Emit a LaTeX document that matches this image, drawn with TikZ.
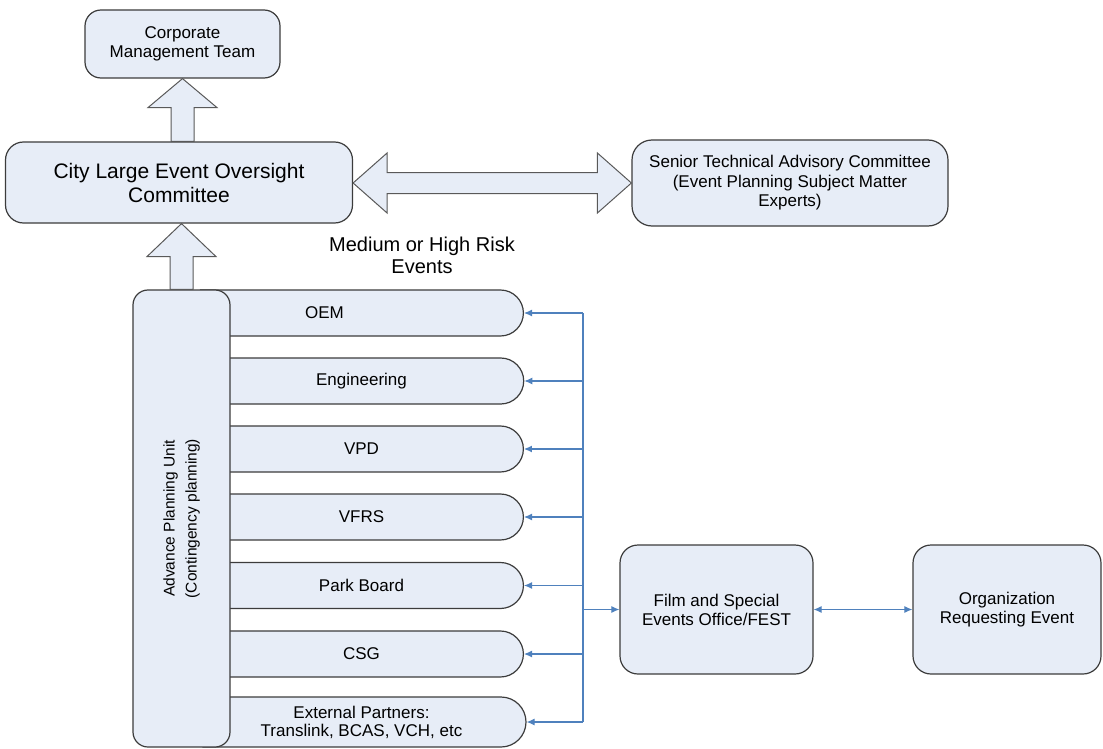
\documentclass[tikz,border=0pt]{standalone}
\usepackage{fontspec}
\setmainfont{Liberation Sans}
\usetikzlibrary{arrows.meta,calc,shapes.misc}
\definecolor{boxfill}{RGB}{231,237,247}
\definecolor{boxline}{RGB}{60,60,60}
\definecolor{connblue}{RGB}{79,129,189}
\tikzset{
  box/.style={draw=boxline, fill=boxfill, line width=1.2pt, rounded corners=#1, inner sep=0pt, align=center,
              font=\fontsize{17}{19}\selectfont},
  box/.default=16pt,
  sidebox/.style={draw=boxline, fill=boxfill, line width=1.2pt, rounded rectangle, rounded rectangle left arc=none,
              minimum width=323pt, minimum height=46pt, inner sep=0pt, align=center,
              font=\fontsize{17}{18}\selectfont},
  fat/.style={draw=boxline!85, fill=boxfill, line width=1pt, line join=miter},
  conn/.style={draw=connblue, line width=1.1pt},
  tip/.style={-{Latex[length=8pt,width=7pt]}},
  dtip/.style={{Latex[length=8pt,width=7pt]}-{Latex[length=8pt,width=7pt]}},
}
\begin{document}
\begin{tikzpicture}[x=1pt,y=-1pt]
\useasboundingbox (0,0) rectangle (1103,749);

% nodes
\node[box, minimum width=195pt, minimum height=68pt] (corp) at (182.5,44) {Corporate\\Management Team};
\node[box=18pt, minimum width=347pt, minimum height=81pt, font=\fontsize{21}{24}\selectfont] (city) at (179,182.5) {City Large Event Oversight\\Committee};
\node[box=20pt, minimum width=316pt, minimum height=86pt, font=\fontsize{17}{19.5}\selectfont] (senior) at (790,183) {Senior Technical Advisory Committee\\(Event Planning Subject Matter\\Experts)};
\node[font=\fontsize{20}{22}\selectfont, align=center, inner sep=0pt] (risk) at (422,255) {Medium or High Risk\\Events};

% fat arrows
\draw[fat] let \p1=(corp.south), \p2=(city.north) in
  (\x1,\y1) -- (\x1+34.5pt,\y1-29pt) -- (\x1+11.5pt,\y1-29pt) -- (\x1+11.5pt,\y2)
  -- (\x1-11.5pt,\y2) -- (\x1-11.5pt,\y1-29pt) -- (\x1-34.5pt,\y1-29pt) -- cycle;
\draw[fat] let \p1=(city.east), \p2=(senior.west) in
  (\x1,\y2) -- (\x1+34pt,\y2+30pt) -- (\x1+34pt,\y2+10.5pt) -- (\x2-34pt,\y2+10.5pt)
  -- (\x2-34pt,\y2+30pt) -- (\x2,\y2) -- (\x2-34pt,\y2-30pt) -- (\x2-34pt,\y2-10.5pt)
  -- (\x1+34pt,\y2-10.5pt) -- (\x1+34pt,\y2-30pt) -- cycle;

% side boxes
\node[sidebox] (oem) at (361.5,313) {OEM\hspace*{74pt}};
\node[sidebox] (eng) at (361.5,381) {Engineering};
\node[sidebox] (vpd) at (361.5,449) {VPD};
\node[sidebox] (vfrs) at (361.5,517) {VFRS};
\node[sidebox] (park) at (361.5,585.5) {Park Board};
\node[sidebox] (csg) at (361.5,654) {CSG};
\node[sidebox, minimum height=50pt] (ext) at (361.5,722) {External Partners:\\Translink, BCAS, VCH, etc};

% advance planning unit
\node[box=15pt, minimum width=97pt, minimum height=457pt] (apu) at (181.5,518.5) {};
\node[rotate=90, align=center, inner sep=0pt, font=\fontsize{15.5}{22}\selectfont] (apulabel) at (apu.center) {Advance Planning Unit\\(Contingency planning)};

\draw[fat] let \p1=(apu.north), \p2=(city.south) in
  (\x1,\y2) -- (\x1+34.5pt,\y2-33pt) -- (\x1+11.5pt,\y2-33pt) -- (\x1+11.5pt,\y1)
  -- (\x1-11.5pt,\y1) -- (\x1-11.5pt,\y2-33pt) -- (\x1-34.5pt,\y2-33pt) -- cycle;

% right boxes
\node[box=18pt, minimum width=193pt, minimum height=129pt] (fest) at (716.5,609.5) {Film and Special\\Events Office/FEST};
\node[box=18pt, minimum width=188pt, minimum height=129pt] (org) at (1007,609.5) {Organization\\Requesting Event};

% blue connectors
\coordinate (bt) at (583,313);
\coordinate (bb) at (583,722);
\draw[conn] (bt) -- (bb);
\draw[conn,tip] (bt) -- (oem.east);
\draw[conn,tip] (bt |- eng.east) -- (eng.east);
\draw[conn,tip] (bt |- vpd.east) -- (vpd.east);
\draw[conn,tip] (bt |- vfrs.east) -- (vfrs.east);
\draw[conn,tip] (bt |- park.east) -- (park.east);
\draw[conn,tip] (bt |- csg.east) -- (csg.east);
\draw[conn,tip] (bb) -- (ext.east);
\draw[conn,tip] (bt |- fest.west) -- (fest.west);
\draw[conn,dtip] (fest.east) -- (org.west);
\end{tikzpicture}
\end{document}
